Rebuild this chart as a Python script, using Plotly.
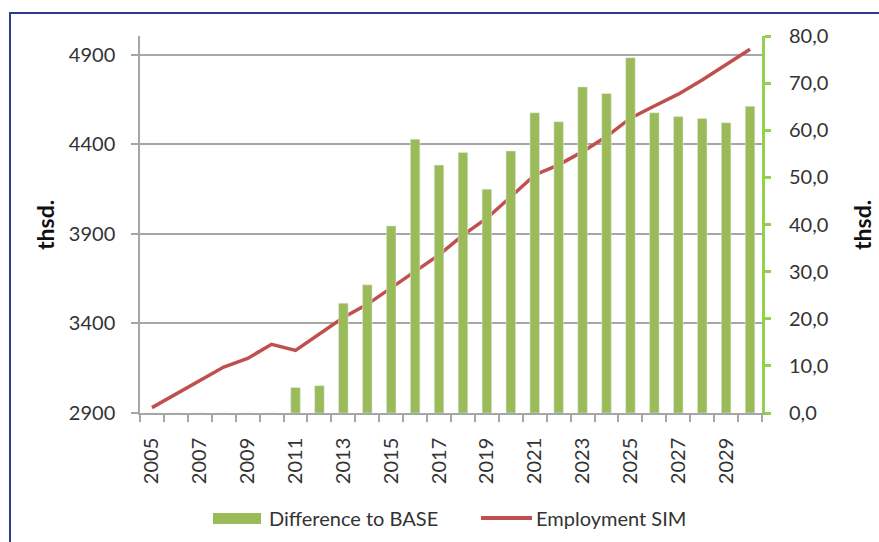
import plotly.graph_objects as go

years = list(range(2005, 2031))
employment_sim = [2930, 3004, 3079, 3157, 3205, 3284, 3250, 3340, 3433, 3507,
                  3600, 3693, 3783, 3894, 3988, 4108, 4230, 4286, 4360, 4444,
                  4547, 4615, 4681, 4760, 4844, 4932]
diff_to_base = [0, 0, 0, 0, 0, 0, 5.4, 5.8, 23.3, 27.2,
                39.7, 58.1, 52.6, 55.3, 47.5, 55.6, 63.7, 61.8, 69.2, 67.8,
                75.4, 63.7, 62.9, 62.5, 61.6, 65.1]
left_ticks = [2900, 3400, 3900, 4400, 4900]
right_ticks = [0, 10, 20, 30, 40, 50, 60, 70, 80]
x_labels = list(range(2005, 2030, 2))

FONT = "Lato"
TXT = "#333333"
GREEN = "#9BBB59"
RED = "#C0504D"
AXGREEN = "#92D050"
GRID = "#A6A6A6"

W, H = 879, 542
L, R, T, B = 140, 117, 36, 129
pw, ph = W - L - R, H - T - B

def px(x):
    return (x - L) / pw

def py(y):
    return (H - B - y) / ph

fig = go.Figure()
fig.add_trace(go.Bar(x=years, y=diff_to_base, yaxis="y2", marker_color=GREEN,
                     width=0.4, name="Difference to BASE", showlegend=False))
fig.add_trace(go.Scatter(x=years, y=employment_sim, yaxis="y", mode="lines",
                         line=dict(color=RED, width=3.5), name="Employment SIM",
                         showlegend=False))

fig.update_layout(
    width=W, height=H,
    margin=dict(l=L, r=R, t=T, b=B, pad=0),
    paper_bgcolor="white", plot_bgcolor="white",
    font=dict(family=FONT, size=20, color=TXT),
    separators=",.",
    xaxis=dict(range=[2004.5, 2030.5], tickmode="array", tickvals=x_labels,
               ticktext=[str(v) for v in x_labels], tickangle=-90,
               ticks="outside", ticklen=10, tickcolor="rgba(0,0,0,0)",
               ticklabelstandoff=5,
               showline=True, linecolor=GRID, linewidth=1.5, showgrid=False,
               zeroline=False, tickfont=dict(size=20, color=TXT),
               minor=dict(tickmode="array", tickvals=[y - 0.5 for y in years] + [2030.5],
                          ticks="outside", ticklen=7, tickcolor=GRID, tickwidth=1.5,
                          showgrid=False)),
    yaxis=dict(range=[2900, 5006], tickmode="array", tickvals=left_ticks,
               tickformat="d", ticks="outside", ticklen=7, tickcolor=GRID, tickwidth=1.5,
               ticklabelstandoff=12,
               showline=True, linecolor=GRID, linewidth=1.5,
               showgrid=True, gridcolor=GRID, gridwidth=1.5, zeroline=False,
               tickfont=dict(size=20, color=TXT)),
    yaxis2=dict(range=[0, 80], overlaying="y", side="right", tickmode="array",
                tickvals=right_ticks, tickformat=".1f", ticks="outside", ticklen=6,
                tickcolor=AXGREEN, tickwidth=3, showline=True, linecolor=AXGREEN,
                ticklabelstandoff=14,
                linewidth=3, showgrid=False, zeroline=False,
                tickfont=dict(size=20, color=TXT)),
    bargap=0.6,
)

# chart border
fig.add_shape(type="rect", xref="paper", yref="paper",
              x0=px(10), x1=px(890), y0=py(560), y1=py(13),
              line=dict(color="#2E3A8C", width=2), fillcolor="rgba(0,0,0,0)", layer="below")

# axis titles
for xt in (45, 862):
    fig.add_annotation(text="<b>thsd.</b>", xref="paper", yref="paper", x=px(xt), y=py(225),
                       xanchor="center", yanchor="middle",
                       showarrow=False, textangle=-90, font=dict(size=23, color="#111111"))

# legend
fig.add_shape(type="rect", xref="paper", yref="paper", x0=px(213), x1=px(261),
              y0=py(524), y1=py(513), line=dict(width=0), fillcolor=GREEN)
fig.add_annotation(text="Difference to BASE", xref="paper", yref="paper",
                   x=px(267), y=py(518), xanchor="left", yanchor="middle",
                   showarrow=False, font=dict(size=20, color=TXT))
fig.add_shape(type="line", xref="paper", yref="paper", x0=px(481), x1=px(532),
              y0=py(518), y1=py(518), line=dict(color=RED, width=4))
fig.add_annotation(text="Employment SIM", xref="paper", yref="paper",
                   x=px(534), y=py(518), xanchor="left", yanchor="middle",
                   showarrow=False, font=dict(size=20, color=TXT))

fig.write_html("out.html", config={"displayModeBar": False},
               post_script="document.body.style.margin='0';")
